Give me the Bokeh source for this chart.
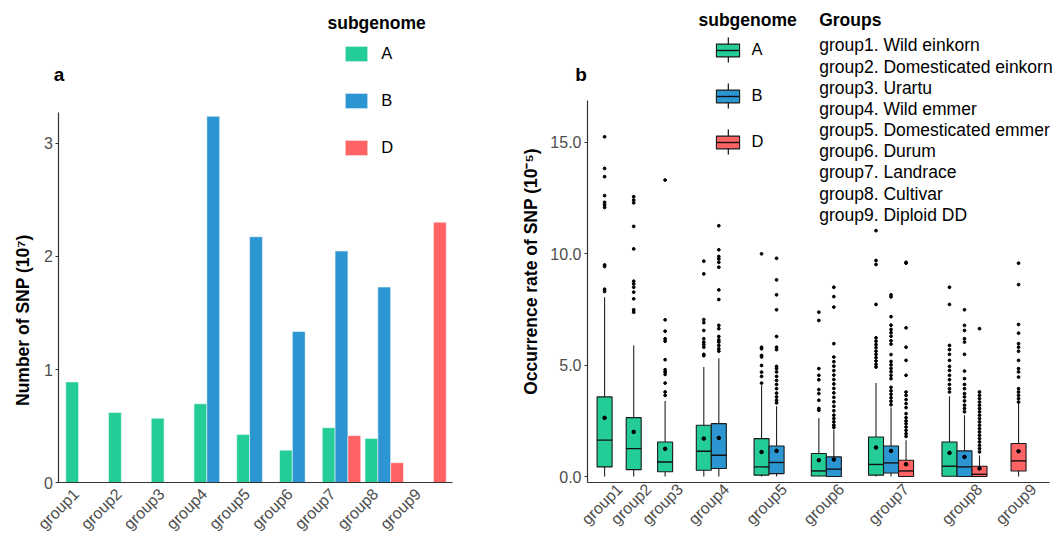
import math
from bokeh.plotting import figure
from bokeh.models import (ColumnDataSource, FactorRange, Range1d, FixedTicker,
                          PrintfTickFormatter, Legend, LegendItem, Label,
                          CustomJSTickFormatter)
from bokeh.transform import dodge
from bokeh.layouts import row
from bokeh.embed import file_html
from bokeh.resources import INLINE

# ---------------- data ----------------
groups = ["group1", "group2", "group3", "group4", "group5",
          "group6", "group7", "group8", "group9"]
group_desc = ["Wild einkorn", "Domesticated einkorn", "Urartu", "Wild emmer",
              "Domesticated emmer", "Durum", "Landrace", "Cultivar", "Diploid DD"]
subgenomes = ["A", "B", "D"]

# panel a: number of SNP (10^7)
snp_A = [0.89, 0.62, 0.568, 0.697, 0.424, 0.286, 0.485, 0.39, None]
snp_B = [None, None, None, 3.24, 2.174, 1.336, 2.048, 1.729, None]
snp_D = [None, None, None, None, None, None, 0.415, 0.175, 2.303]

# panel b: occurrence rate of SNP (10^-5), box statistics
rate_group_pos = [37, 100, 168, 268, 393, 517, 657, 816, 933]
box_group = ["group1", "group2", "group3", "group4", "group4", "group5", "group5",
             "group6", "group6", "group7", "group7", "group7", "group8", "group8",
             "group8", "group9"]
box_sub = ["A", "A", "A", "A", "B", "A", "B", "A", "B", "A", "B", "D", "A", "B", "D", "D"]
box_low = [0.0, 0.0, 0.0, 0.0, 0.0, 0.0, 0.0, 0.0, 0.0, 0.0, 0.0, 0.0, 0.0, 0.0, 0.0, 0.0]
box_q1 = [0.43, 0.31, 0.21, 0.28, 0.36, 0.06, 0.13, 0.02, 0.0, 0.06, 0.16, 0.0, 0.01, 0.0, 0.0, 0.25]
box_median = [1.63, 1.25, 0.65, 1.13, 0.95, 0.43, 0.63, 0.25, 0.33, 0.54, 0.61, 0.25, 0.46, 0.43, 0.10, 0.70]
box_q3 = [3.57, 2.64, 1.55, 2.30, 2.37, 1.70, 1.37, 1.03, 0.88, 1.77, 1.37, 0.73, 1.55, 1.15, 0.46, 1.48]
box_high = [8.04, 5.88, 3.39, 4.91, 5.31, 4.09, 3.15, 2.63, 2.10, 4.19, 3.10, 1.63, 3.60, 2.75, 0.95, 3.30]
box_mean = [2.63, 2.00, 1.24, 1.70, 1.73, 1.10, 1.15, 0.73, 0.76, 1.30, 1.15, 0.55, 1.06, 0.88, 0.36, 1.13]
box_outliers = [
    [15.24, 13.82, 13.45, 12.60, 12.30, 12.19, 12.07, 9.49, 9.42, 8.40, 8.30],
    [12.55, 12.40, 12.28, 11.22, 10.21, 8.76, 8.64, 8.49, 8.27, 7.97, 7.48, 7.37],
    [13.30, 7.03, 6.52, 6.18, 6.07, 5.24, 4.79, 4.69, 4.58, 4.19, 3.79, 3.64],
    [9.66, 9.09, 7.04, 6.90, 6.55, 6.18, 6.03, 5.92, 5.80, 5.48, 5.42],
    [11.25, 10.17, 9.87, 9.76, 9.61, 9.39, 8.37, 7.94, 6.78, 6.63, 6.28, 6.13, 6.03, 5.88, 5.73, 5.62],
    [9.99, 5.80, 5.73, 5.43, 5.36, 4.98, 4.68, 4.49, 4.19],
    [9.79, 8.82, 8.15, 7.48, 6.28, 5.80, 5.69, 4.94, 4.84, 4.69, 4.49, 4.31, 4.13, 3.94, 3.74, 3.57, 3.42, 3.30],
    [7.37, 7.00, 4.84, 4.54, 4.34, 3.90, 3.72, 3.42, 3.05, 2.97],
    [8.49, 8.07, 7.60, 5.96, 5.36, 5.15, 4.95, 4.75, 4.55, 4.35, 4.15, 3.95, 3.75, 3.55, 3.35, 3.15,
     2.95, 2.75, 2.60, 2.45, 2.30, 2.20],
    [11.03, 9.69, 9.51, 7.72, 6.22, 6.07, 5.92, 5.78, 5.62, 5.48, 5.33, 5.18, 5.03, 4.91],
    [8.15, 8.06, 7.17, 6.79, 6.60, 6.45, 6.29, 6.09, 5.94, 5.47, 5.16, 5.01, 4.85, 4.70, 4.54, 4.39,
     4.00, 3.84, 3.69, 3.53, 3.38, 3.22],
    [9.61, 9.57, 6.67, 5.80, 5.21, 4.54, 3.79, 3.64, 3.45, 3.27, 3.09, 2.82, 2.64, 2.49, 2.37, 2.22,
     2.07, 1.92, 1.80],
    [8.49, 7.72, 5.88, 5.69, 5.48, 5.21, 4.94, 4.76, 4.54, 4.34, 4.13, 3.94, 3.79],
    [7.48, 6.78, 6.55, 6.18, 6.03, 5.48, 4.73, 4.39, 4.13, 3.94, 3.72, 3.57, 3.39, 3.20, 3.05, 2.90],
    [6.63, 3.79, 3.64, 3.49, 3.34, 3.20, 3.05, 2.90, 2.75, 2.60, 2.45, 2.30, 2.15, 2.00, 1.85, 1.70,
     1.55, 1.40, 1.25, 1.10],
    [9.57, 8.61, 6.82, 6.43, 5.96, 5.80, 5.62, 5.21, 4.84, 4.69, 4.46, 3.94, 3.79, 3.64, 3.49, 3.34],
]

# ---------------- style ----------------
FONT = "Liberation Sans"
COLORS = {"A": "#24CC97", "B": "#2B96D1", "D": "#FF6363"}
TICK_COLOR = "#4D4D4D"
AXIS_COLOR = "#333333"
BOX_W = 32.5
LABEL_DX = 32.5   # x-label offset in panel b (labels sit right of the boxes)
H = 540


def make_fig(width, x_range, y_range):
    p = figure(width=width, height=H, x_range=x_range, y_range=y_range,
               min_border=0, min_border_left=0, min_border_right=0,
               min_border_top=0, min_border_bottom=0,
               output_backend="svg", toolbar_location=None)
    p.title.visible = False
    p.outline_line_color = None
    p.xgrid.grid_line_color = None
    p.ygrid.grid_line_color = None
    p.background_fill_color = "white"
    p.border_fill_color = "white"
    return p


def style_axes(p):
    for ax in (p.xaxis[0], p.yaxis[0]):
        ax.axis_line_color = AXIS_COLOR
        ax.axis_line_width = 1.2
        ax.major_label_text_font = FONT
        ax.major_label_text_font_size = "16px"
        ax.major_label_text_color = TICK_COLOR
        ax.minor_tick_line_color = None
    p.xaxis.major_tick_line_color = None
    p.xaxis.major_tick_out = 0
    p.xaxis.major_tick_in = 0
    p.xaxis.major_label_orientation = math.pi / 4
    p.xaxis.major_label_standoff = 3
    p.yaxis.major_tick_out = 3
    p.yaxis.major_tick_in = 0
    p.yaxis.major_tick_line_color = AXIS_COLOR
    p.yaxis.major_label_standoff = 3


def add_text(p, x, y, text, size, bold=False, angle=0.0, align="left"):
    p.add_layout(Label(x=x, y=y, x_units="screen", y_units="screen", text=text,
                       text_font=FONT, text_font_size=size,
                       text_font_style="bold" if bold else "normal",
                       text_color="black", text_baseline="middle", text_align=align,
                       angle=angle))


def plain_legend(**kw):
    base = dict(orientation="vertical", padding=0, margin=0, border_line_color=None,
                background_fill_alpha=0, label_text_font=FONT,
                label_text_color="black")
    base.update(kw)
    return Legend(**base)


# ---------------- panel a ----------------
W1 = 511
p1 = make_fig(W1,
              FactorRange(factors=groups, range_padding=1.476, range_padding_units="absolute"),
              Range1d(-0.513, 4.265))

bar_renderers = {}
for sub, vals, off in (("A", snp_A, -0.3), ("B", snp_B, 0.0), ("D", snp_D, 0.3)):
    src = ColumnDataSource(dict(group=[g for g, v in zip(groups, vals) if v is not None],
                                value=[v for v in vals if v is not None]))
    bar_renderers[sub] = p1.vbar(x=dodge("group", off, range=p1.x_range), top="value", bottom=0,
                                 width=0.3, source=src, fill_color=COLORS[sub],
                                 line_color="white", line_alpha=0.5, line_width=1)

style_axes(p1)
p1.yaxis.ticker = FixedTicker(ticks=[0, 1, 2, 3])
p1.yaxis.fixed_location = -0.108
p1.yaxis.bounds = (0, 3.27)
p1.xaxis.fixed_location = 0
p1.xaxis.bounds = (-0.108, 9.095)
# labels end a little left of / below the bar-group centre, as in ggplot (hjust = 1)
p1.xaxis.formatter = CustomJSTickFormatter(code="return tick + '\u2002\u00a0';")
p1.xaxis.major_label_standoff = 0

leg1 = plain_legend(items=[LegendItem(label=s, renderers=[bar_renderers[s]]) for s in subgenomes],
                    location=(342.2, 383.5), glyph_width=28, glyph_height=19, label_height=19,
                    label_standoff=11, spacing=28, label_text_font_size="16.5px")
p1.add_layout(leg1, "center")

add_text(p1, 53.3, H - 73.6, "a", "19px", bold=True)
add_text(p1, 327, H - 22.7, "subgenome", "17.5px", bold=True)
add_text(p1, 22.5, H - 319.7, "Number of SNP (10\u2077)", "17.5px", bold=True,
         angle=math.pi / 2, align="center")

# ---------------- panel b ----------------
X0 = 511          # page x where panel b starts
W2 = 1056 - X0
PX_X = 0.462      # pixels per x unit
PX_Y = 22.29      # pixels per y unit
p2 = make_fig(W2,
              Range1d((X0 - 587) / PX_X, (1056 - 587) / PX_X),
              Range1d(-(H - 476) / PX_Y, 476 / PX_Y))

box_x = []
for i, g in enumerate(box_group):
    members = [j for j, gg in enumerate(box_group) if gg == g]
    n = len(members)
    k = members.index(i)
    box_x.append(rate_group_pos[groups.index(g)] + (k - (n - 1) / 2) * BOX_W)

box_src = ColumnDataSource(dict(
    x=box_x, x0=[x - BOX_W / 2 for x in box_x], x1=[x + BOX_W / 2 for x in box_x],
    low=box_low, q1=box_q1, med=box_median, q3=box_q3, high=box_high, mean=box_mean,
    color=[COLORS[s] for s in box_sub]))
out_src = ColumnDataSource(dict(
    x=[x for x, outs in zip(box_x, box_outliers) for _ in outs],
    y=[v for outs in box_outliers for v in outs]))

whisk_r = p2.vbar(x="x", width=2.4, bottom="low", top="high", source=box_src,
                  fill_color="#222222", line_color=None)
box_r = p2.vbar(x="x", width=BOX_W, bottom="q1", top="q3", source=box_src,
                fill_color="color", line_color="#1A1A1A", line_width=1.1)
med_r = p2.segment(x0="x0", y0="med", x1="x1", y1="med", source=box_src,
                   line_color="#111111", line_width=1.4)
p2.scatter(x="x", y="mean", source=box_src, size=3.6, color="black")
p2.scatter(x="x", y="y", source=out_src, size=2.8, color="black")

style_axes(p2)
label_pos = [pos + LABEL_DX for pos in rate_group_pos]
p2.xaxis.ticker = FixedTicker(ticks=label_pos)
p2.xaxis.major_label_overrides = {pos: g for pos, g in zip(label_pos, groups)}
p2.xaxis.major_label_standoff = 4
p2.xaxis.fixed_location = -0.27
p2.xaxis.bounds = (0, 1000)
p2.yaxis.ticker = FixedTicker(ticks=[0, 5, 10, 15])
p2.yaxis.formatter = PrintfTickFormatter(format="%.1f")
p2.yaxis.fixed_location = 0
p2.yaxis.bounds = (-0.27, 16.87)

first = {s: box_sub.index(s) for s in subgenomes}
whisk_leg = plain_legend(items=[LegendItem(label=s, renderers=[whisk_r], index=first[s]) for s in subgenomes],
                         location=(726.5 - X0, H - 157), glyph_width=2, glyph_height=31, label_height=20,
                         label_standoff=23, spacing=15, label_text_font_size="16.5px")
box_leg = plain_legend(items=[LegendItem(label=" ", renderers=[box_r], index=first[s]) for s in subgenomes],
                       location=(713 - X0, H - 149.5), glyph_width=29, glyph_height=16, label_height=1,
                       label_width=1, label_standoff=0, spacing=30, label_text_font_size="1px")
med_leg = plain_legend(items=[LegendItem(label=" ", renderers=[med_r], index=first[s]) for s in subgenomes],
                       location=(716 - X0, H - 149.5), glyph_width=23, glyph_height=16, label_height=1,
                       label_width=1, label_standoff=0, spacing=30, label_text_font_size="1px")
p2.add_layout(whisk_leg, "center")
p2.add_layout(box_leg, "center")
p2.add_layout(med_leg, "center")

add_text(p2, 574.8 - X0, H - 73.6, "b", "19px", bold=True)
add_text(p2, 698 - X0, H - 19, "subgenome", "17.5px", bold=True)
add_text(p2, 818.7 - X0, H - 19, "Groups", "17.5px", bold=True)
for i, (g, d) in enumerate(zip(groups, group_desc)):
    add_text(p2, 818.7 - X0, H - (44.9 + 21.17 * i), f"{g}. {d}", "17.5px")
add_text(p2, 530.3 - X0, H - 271, "Occurrence rate of SNP (10\u207b\u2075)", "17.5px", bold=True,
         angle=math.pi / 2, align="center")

layout = row(p1, p2)
open("out.html", "w").write(file_html(layout, INLINE))
